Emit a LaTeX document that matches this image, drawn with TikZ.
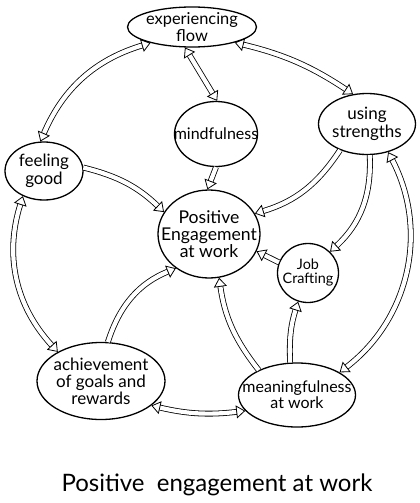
\documentclass[tikz,border=0pt]{standalone}
\usepackage{fontspec}
\setmainfont{Lato}
\usetikzlibrary{arrows.meta,shapes.geometric}

\begin{document}
\begin{tikzpicture}[x=0.5pt,y=-0.5pt,
  bubble/.style={draw, ellipse, line width=0.65pt, inner sep=0pt},
  txt/.style={align=center, font=\fontsize{8.5}{7.5}\selectfont},
  tip/.tip={Triangle[open,length=4.5pt,width=6.5pt]},
  dbl/.style={draw, line width=0.4pt, double=white, double distance=2.1pt, line join=round},
  one/.style={dbl, -tip},
  two/.style={dbl, tip-tip}]
\useasboundingbox (0,0) rectangle (419,503);
% Bubbles
\node[bubble, minimum width=64.5pt, minimum height=20pt,
  label={[txt, font=\fontsize{8.2}{7}\selectfont]center:{experiencing\\flow}}] (flow) at (192,27) {};
\node[bubble, minimum width=41.5pt, minimum height=32.5pt,
  label={[txt, font=\fontsize{8}{7}\selectfont]center:{mindfulness}}] (mind) at (216,134) {};
\node[bubble, minimum width=48.5pt, minimum height=30.5pt,
  label={[txt]center:{using\\strengths}}] (str) at (367,124) {};
\node[bubble, minimum width=39pt, minimum height=29pt,
  label={[txt]center:{feeling\\good}}] (feel) at (44,171) {};
\node[bubble, minimum width=51pt, minimum height=44pt,
  label={[txt, font=\fontsize{8.8}{8.5}\selectfont]center:{Positive\\Engagement\\at work}}] (pe) at (209,234) {};
\node[bubble, minimum width=30.5pt, minimum height=29.5pt,
  label={[txt, font=\fontsize{7.2}{7}\selectfont]center:{Job\\Crafting}}] (job) at (308,273) {};
\node[bubble, minimum width=64pt, minimum height=38.5pt,
  label={[txt, font=\fontsize{8.5}{8.5}\selectfont]center:{achievement\\of goals and\\rewards}}] (ach) at (101,381) {};
\node[bubble, minimum width=58.5pt, minimum height=32pt,
  label={[txt, font=\fontsize{8}{8}\selectfont]center:{meaningfulness\\at work}}] (mean) at (297,395) {};
% Arrows around the ring
\draw[two] (flow.201) to[bend right=25] (feel.97);
\draw[two] (flow.340) to[bend left=10] (str.115);
\draw[two] (feel.230) to[bend right=30] (ach.146);
\draw[two] (ach.334) to[bend right=10] (mean.197);
\draw[two] (mean.28) to[bend right=40] (str.307);
\draw[two] (flow.251) -- (mind.88);
% Arrows into the middle
\draw[one] (feel.5) to[bend left=15] (pe.154);
\draw[one] (mind.270) -- (pe.92);
\draw[one] (str.224) to[bend left=20] (pe.24);
\draw[one] (str.275) to[bend left=25] (job.44);
\draw[one] (ach.80) to[bend left=25] (pe.226);
\draw[one] (mean.147) to[bend left=15] (pe.283);
\draw[one] (mean.102) to[bend left=10] (job.251);
\draw[one] (job.160) -- (pe.340);
% Caption
\node[font=\fontsize{12}{14}\selectfont] (cap) at (217,485) {Positive\ \ engagement at work};
\end{tikzpicture}
\end{document}
